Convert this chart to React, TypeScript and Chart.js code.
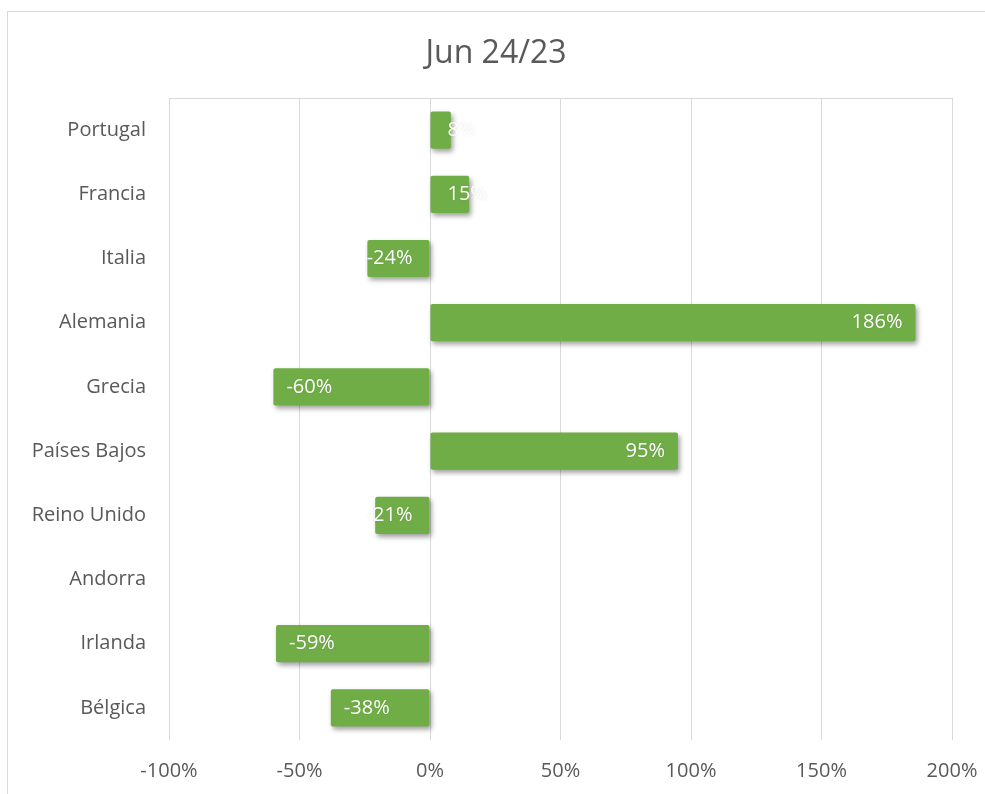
import { useEffect, useRef } from 'react';
import { Chart, registerables } from 'chart.js';

Chart.register(...registerables);

const TITLE = 'Jun 24/23';
const categories = ['Portugal', 'Francia', 'Italia', 'Alemania', 'Grecia', 'Países Bajos', 'Reino Unido', 'Andorra', 'Irlanda', 'Bélgica'];
const values: (number | null)[] = [8, 15, -24, 186, -60, 95, -21, null, -59, -38];
const xMin = -100;
const xMax = 200;
const xStep = 50;

const FONT = '"Open Sans", "DejaVu Sans", sans-serif';
const TEXT = '#595959';
const GRID = '#d9d9d9';
const BAR = '#70AD47';

const titlePlugin = {
  id: 'chartTitle',
  afterDraw(chart: any) {
    const { ctx } = chart;
    ctx.save();
    ctx.font = `32px ${FONT}`;
    ctx.fillStyle = TEXT;
    ctx.textAlign = 'center';
    ctx.textBaseline = 'middle';
    ctx.fillText(TITLE, 496, 54);
    ctx.restore();
  },
};

const decorPlugin = {
  id: 'decor',
  beforeDatasetsDraw(chart: any) {
    const { ctx, chartArea } = chart;
    ctx.save();
    ctx.strokeStyle = GRID;
    ctx.lineWidth = 1;
    ctx.beginPath();
    ctx.moveTo(chartArea.left, Math.round(chartArea.top) + 0.5);
    ctx.lineTo(chartArea.right, Math.round(chartArea.top) + 0.5);
    ctx.stroke();
    ctx.restore();
    ctx.save();
    ctx.shadowColor = 'rgba(0,0,0,0.38)';
    ctx.shadowBlur = 5;
    ctx.shadowOffsetX = 2;
    ctx.shadowOffsetY = 3;
  },
  afterDatasetsDraw(chart: any) {
    chart.ctx.restore();
  },
};

const labelPlugin = {
  id: 'barLabels',
  afterDatasetsDraw(chart: any) {
    const { ctx } = chart;
    const meta = chart.getDatasetMeta(0);
    ctx.save();
    ctx.font = `20px ${FONT}`;
    ctx.fillStyle = '#ffffff';
    ctx.textBaseline = 'middle';
    ctx.shadowColor = 'rgba(0,0,0,0.12)';
    ctx.shadowBlur = 2;
    meta.data.forEach((el: any, i: number) => {
      const v = values[i];
      if (v === null || v === undefined) return;
      const { x, y, base } = el.getProps(['x', 'y', 'base'], true);
      const t = `${v}%`;
      const w = ctx.measureText(t).width;
      const len = Math.abs(x - base);
      const pad = 13;
      if (v >= 0) {
        if (len >= w + 2 * pad) {
          ctx.textAlign = 'right';
          ctx.fillText(t, x - pad, y);
        } else {
          ctx.textAlign = 'left';
          ctx.fillText(t, base + 17, y);
        }
      } else {
        if (len >= w + 2 * pad) {
          ctx.textAlign = 'left';
          ctx.fillText(t, x + pad, y);
        } else {
          ctx.textAlign = 'right';
          ctx.fillText(t, base - 17, y);
        }
      }
    });
    ctx.restore();
  },
};

export default function App() {
  const ref = useRef<HTMLCanvasElement | null>(null);

  useEffect(() => {
    if (!ref.current) return;
    const chart = new Chart(ref.current, {
      type: 'bar',
      data: {
        labels: categories,
        datasets: [
          {
            data: values,
            backgroundColor: BAR,
            borderWidth: 0,
            borderRadius: 2,
            borderSkipped: false,
            categoryPercentage: 1,
            barPercentage: 0.58,
          },
        ],
      },
      options: {
        indexAxis: 'y',
        responsive: false,
        animation: false,
        devicePixelRatio: 1,
        layout: { padding: { left: 0, right: 33, top: 98, bottom: 0 } },
        plugins: {
          legend: { display: false },
          tooltip: { enabled: false },
          title: { display: false },
        },
        scales: {
          x: {
            min: xMin,
            max: xMax,
            ticks: {
              stepSize: xStep,
              color: TEXT,
              font: { family: FONT, size: 20 },
              padding: 19,
              callback: (v: any) => `${v}%`,
            },
            grid: { color: GRID, drawTicks: false, lineWidth: 1 },
            border: { display: false },
            afterFit: (s: any) => {
              s.height = 54;
              s.paddingLeft = 0;
              s.paddingRight = 0;
            },
          },
          y: {
            ticks: {
              color: TEXT,
              font: { family: FONT, size: 20 },
              padding: 23,
            },
            grid: { display: false, drawTicks: false },
            border: { display: false },
            afterFit: (s: any) => {
              s.width = 169;
              s.paddingTop = 0;
              s.paddingBottom = 0;
            },
          },
        },
      },
      plugins: [decorPlugin, labelPlugin, titlePlugin],
    });
    return () => chart.destroy();
  }, []);

  return (
    <div style={{ position: 'fixed', left: 0, top: 0, width: 985, height: 794, overflow: 'hidden', background: '#fff' }}>
      <div
        style={{
          position: 'absolute',
          left: 7,
          top: 11,
          width: 1010,
          height: 820,
          border: '1px solid #d9d9d9',
          boxSizing: 'border-box',
        }}
      />
      <canvas ref={ref} width={985} height={794} style={{ position: 'absolute', left: 0, top: 0 }} />
    </div>
  );
}
